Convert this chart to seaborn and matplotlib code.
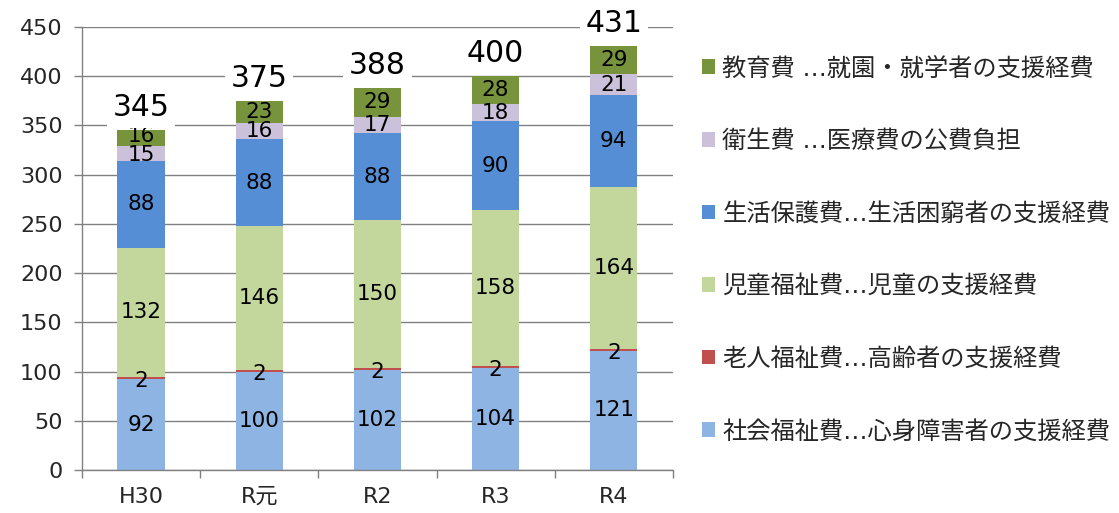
import numpy as np
import matplotlib.pyplot as plt
import seaborn as sns
from matplotlib.patches import Patch

# データ（単位：億円想定）
years = ["H30", "R元", "R2", "R3", "R4"]
shakai = [92, 100, 102, 104, 121]
rojin = [2, 2, 2, 2, 2]
jido = [132, 146, 150, 158, 164]
seikatsu = [88, 88, 88, 90, 94]
eisei = [15, 16, 17, 18, 21]
kyoiku = [16, 23, 29, 28, 29]
totals = [345, 375, 388, 400, 431]

series = [shakai, rojin, jido, seikatsu, eisei, kyoiku]
labels = [
    "社会福祉費…心身障害者の支援経費",
    "老人福祉費…高齢者の支援経費",
    "児童福祉費…児童の支援経費",
    "生活保護費…生活困窮者の支援経費",
    "衛生費 …医療費の公費負担",
    "教育費 …就園・就学者の支援経費",
]
colors = ["#8EB4E3", "#C0504D", "#C3D69B", "#558ED5", "#CCC1DA", "#77933C"]

sns.set_style("white")
plt.rcParams["font.family"] = ["DejaVu Sans", "Noto Sans CJK JP"]

fig = plt.figure(figsize=(11.19, 5.13), dpi=100)
ax = fig.add_axes([0.0733, 0.0838, 0.528, 0.8636])

gray = "#808080"
ax.set_axisbelow(True)
ax.yaxis.grid(True, color=gray, linewidth=1)

# 積み上げ：累積値を上から順に重ねて描く
cum = np.cumsum(np.array(series), axis=0)
for i in range(len(series) - 1, -1, -1):
    sns.barplot(x=years, y=cum[i], color=colors[i], width=0.4, saturation=1,
                errorbar=None, order=years, ax=ax, linewidth=0)

# セグメント内の数値（小さい区間は少しずらす）
for i, vals in enumerate(series):
    for j, v in enumerate(vals):
        base = cum[i][j] - v
        yc = base + v / 2
        if v <= 3:
            yc -= 3
        elif i == 5 and v < 20:
            yc += 2
        elif i == 4 and kyoiku[j] < 20:
            yc -= 2
        ax.text(j, yc, str(v), ha="center", va="center", fontsize=15.5, color="black")

# 合計ラベル
for j, t in enumerate(totals):
    ax.text(j, t + 23, str(t), ha="center", va="center", fontsize=21.5, color="black",
            clip_on=False,
            bbox=dict(facecolor="white", edgecolor="none", pad=4))

ax.set_xlim(-0.5, 4.5)
ax.set_ylim(0, 450)
ax.set_yticks(range(0, 451, 50))
ax.set_xlabel("")
ax.set_ylabel("")

ax.tick_params(axis="y", which="major", direction="out", length=6, color=gray,
               width=1, labelsize=16, pad=8, left=True)
ax.tick_params(axis="x", which="major", length=0, labelsize=16, pad=12)
ax.set_xticks(np.arange(-0.5, 5, 1), minor=True)
ax.tick_params(axis="x", which="minor", direction="out", length=6, color=gray,
               width=1, bottom=True)

for s in ["top", "right"]:
    ax.spines[s].set_visible(False)
for s in ["left", "bottom"]:
    ax.spines[s].set_color(gray)
    ax.spines[s].set_linewidth(1)

handles = [Patch(facecolor=c, edgecolor="none") for c in colors]
fig.legend(handles[::-1], labels[::-1], loc="center left",
           bbox_to_anchor=(0.627, 0.513), frameon=False, fontsize=17.5,
           handlelength=0.55, handleheight=0.55, handletextpad=0.3,
           labelspacing=2.0, borderaxespad=0, borderpad=0)

plt.savefig("out.png", dpi=100)
